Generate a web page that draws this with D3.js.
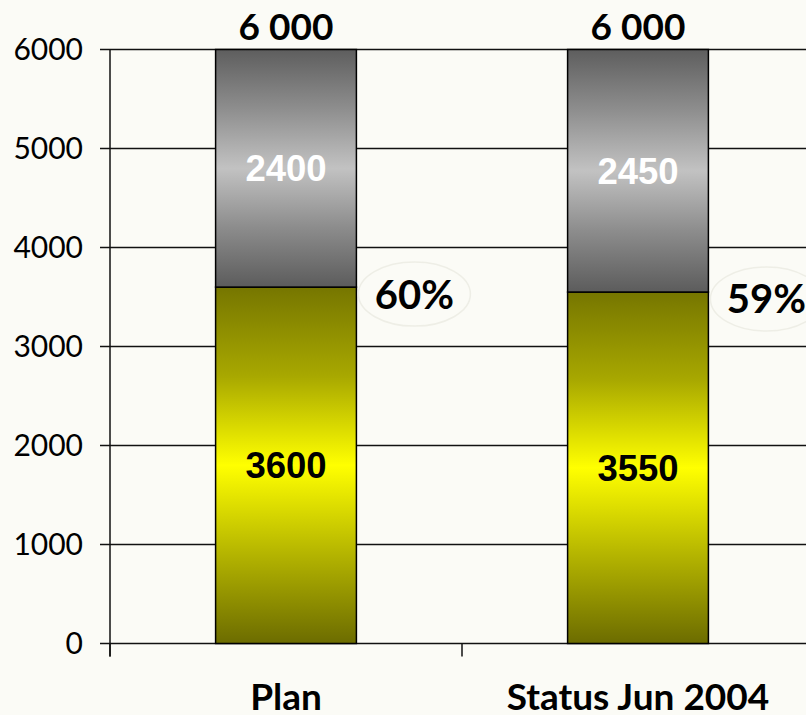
<!DOCTYPE html>
<html>
<head>
<meta charset="utf-8">
<script src="https://cdn.jsdelivr.net/npm/d3@7/dist/d3.min.js"></script>
<style>
  html, body { margin: 0; padding: 0; background: #fbfbf6; }
  svg { display: block; }
</style>
</head>
<body>
<script>
// Chart data
const categories = ["Plan", "Status Jun 2004"];
const doneValues = [3600, 3550];      // lower (yellow) segment
const openValues = [2400, 2450];      // upper (grey) segment
const totalLabels = ["6 000", "6 000"];
const yTicks = [0, 1000, 2000, 3000, 4000, 5000, 6000];

const W = 806, H = 715;
const svg = d3.select("body").append("svg").attr("width", W).attr("height", H);

const x = d3.scaleBand().domain(categories).range([110, 814])
  .paddingInner(0.6).paddingOuter(0.3);
const y = d3.scaleLinear().domain([0, 6000]).range([643.5, 49.5]);

// Gradients
const defs = svg.append("defs");
function gradient(id, stops) {
  const g = defs.append("linearGradient").attr("id", id)
    .attr("x1", 0).attr("y1", 0).attr("x2", 0).attr("y2", 1);
  stops.forEach(([o, c]) => g.append("stop").attr("offset", o).attr("stop-color", c));
}
gradient("gYellow", [[0, "#767600"], [0.25, "#a8a800"], [0.5, "#ffff00"], [0.75, "#b4b400"], [1, "#6c6c00"]]);
gradient("gGrey", [[0, "#5e5e5e"], [0.25, "#8e8e8e"], [0.5, "#c2c2c2"], [0.75, "#8c8c8c"], [1, "#5c5c5c"]]);

// Horizontal grid lines + y axis tick labels
const grid = svg.append("g");
yTicks.forEach(t => {
  grid.append("line")
    .attr("x1", 100).attr("x2", W)
    .attr("y1", y(t)).attr("y2", y(t))
    .attr("stroke", "#111").attr("stroke-width", 1.5);
  svg.append("text")
    .attr("x", 83).attr("y", y(t))
    .attr("dy", "0.36em")
    .attr("text-anchor", "end")
    .attr("font-family", "Lato")
    .attr("font-size", 30)
    .attr("fill", "#000")
    .text(t);
});

// Y axis line
svg.append("line").attr("x1", 110).attr("x2", 110)
  .attr("y1", y(6000)).attr("y2", y(0) + 13)
  .attr("stroke", "#111").attr("stroke-width", 1.5);

// Category boundary ticks
const step = x.step();
[0, 1, 2].forEach(i => {
  const bx = 110 + i * step;
  svg.append("line").attr("x1", bx).attr("x2", bx)
    .attr("y1", y(0)).attr("y2", y(0) + 13)
    .attr("stroke", "#111").attr("stroke-width", 1.5);
});

// Bars
const bars = svg.append("g");
categories.forEach((c, i) => {
  const x0 = x(c), bw = x.bandwidth();
  const d = doneValues[i], o = openValues[i];
  bars.append("rect")
    .attr("x", x0).attr("width", bw)
    .attr("y", y(d)).attr("height", y(0) - y(d))
    .attr("fill", "url(#gYellow)")
    .attr("stroke", "#000").attr("stroke-width", 1.5);
  bars.append("rect")
    .attr("x", x0).attr("width", bw)
    .attr("y", y(d + o)).attr("height", y(d) - y(d + o))
    .attr("fill", "url(#gGrey)")
    .attr("stroke", "#000").attr("stroke-width", 1.5);

  // segment value labels
  svg.append("text")
    .attr("x", x0 + bw / 2).attr("y", (y(0) + y(d)) / 2)
    .attr("dy", "0.36em").attr("text-anchor", "middle")
    .attr("font-family", "Liberation Sans, Arial").attr("font-weight", "bold")
    .attr("font-size", 36.5).attr("fill", "#000")
    .text(d);
  svg.append("text")
    .attr("x", x0 + bw / 2).attr("y", (y(d) + y(d + o)) / 2)
    .attr("dy", "0.36em").attr("text-anchor", "middle")
    .attr("font-family", "Liberation Sans, Arial").attr("font-weight", "bold")
    .attr("font-size", 36.5).attr("fill", "#fff")
    .text(o);

  // total label
  svg.append("text")
    .attr("x", x0 + bw / 2).attr("y", 40)
    .attr("text-anchor", "middle")
    .attr("font-family", "Lato").attr("font-weight", "bold")
    .attr("font-size", 37).attr("fill", "#000")
    .text(totalLabels[i]);

  // share label with faint ellipse
  const pct = Math.round(d / (d + o) * 100) + "%";
  const cx = x0 + bw + 58, cy = y(d) + 7;
  svg.append("ellipse")
    .attr("cx", cx).attr("cy", cy).attr("rx", 56).attr("ry", 32)
    .attr("fill", "none").attr("stroke", "#eeeee6").attr("stroke-width", 1.5);
  svg.append("text")
    .attr("x", cx).attr("y", cy)
    .attr("dy", "0.36em").attr("text-anchor", "middle")
    .attr("font-family", "Lato").attr("font-weight", "bold")
    .attr("font-size", 40).attr("fill", "#000")
    .text(pct);

  // category label
  svg.append("text")
    .attr("x", x0 + bw / 2).attr("y", 710)
    .attr("text-anchor", "middle")
    .attr("font-family", "Lato").attr("font-weight", "bold")
    .attr("font-size", 37).attr("fill", "#000")
    .text(c);
});
</script>
</body>
</html>
